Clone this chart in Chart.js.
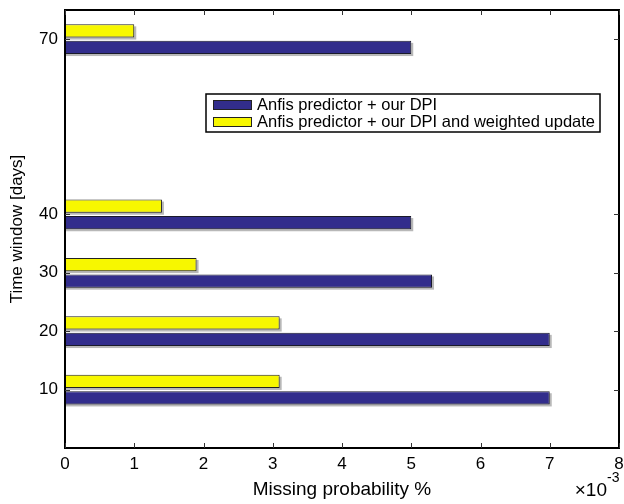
<!DOCTYPE html>
<html>
<head>
<meta charset="utf-8">
<script src="https://cdn.jsdelivr.net/npm/chart.js@4"></script>
<style>
  body { margin: 0; background: #fff; }
</style>
</head>
<body>
<canvas id="chart" width="624" height="504"></canvas>
<script>
// time windows (days) on the y axis
const windows = [10, 20, 30, 40, 70]
// missing probability, in units of 1e-3
const dpiOnly = [7, 7, 5.3, 5, 5]
const dpiWeighted = [3.1, 3.1, 1.9, 1.4, 1]
const yTickValues = [10, 20, 30, 40, 70]
const labelDpi = 'Anfis predictor + our DPI'
const labelWeighted = 'Anfis predictor + our DPI and weighted update'

const BLUE = '#322d8c'
const YELLOW = '#f7f700'
const FONT = '"Liberation Sans", Arial, Helvetica, sans-serif'

Chart.defaults.font.family = FONT
Chart.defaults.color = '#000'

const toPoints = (vals) => vals.map((v, i) => ({ x: v, y: windows[i] }))

// matlab-ish box, inward ticks, legend inside the axes, x10^-3 note
const matlabFrame = {
  id: 'matlabFrame',
  beforeDatasetsDraw(chart) {
    const ctx = chart.ctx
    ctx.save()
    ctx.fillStyle = 'rgba(0,0,0,0.28)'
    chart.data.datasets.forEach((ds, di) => {
      chart.getDatasetMeta(di).data.forEach(bar => {
        const { x, y, base, height } = bar.getProps(['x', 'y', 'base', 'height'], true)
        ctx.fillRect(base + 1, y - height / 2 + 2, x - base + 1, height)
      })
    })
    ctx.restore()
  },
  afterDraw(chart) {
    const ctx = chart.ctx
    const { left, right, top, bottom } = chart.chartArea
    const xs = chart.scales.x
    const ys = chart.scales.y
    ctx.save()
    ctx.strokeStyle = '#000'
    ctx.lineWidth = 2
    ctx.strokeRect(left, top, right - left, bottom - top)

    ctx.lineWidth = 1
    ctx.strokeStyle = '#333'
    ctx.beginPath()
    xs.ticks.forEach(t => {
      const px = Math.round(xs.getPixelForValue(t.value)) + 0.5
      ctx.moveTo(px, bottom); ctx.lineTo(px, bottom - 5)
      ctx.moveTo(px, top); ctx.lineTo(px, top + 5)
    })
    ys.ticks.forEach(t => {
      const py = Math.round(ys.getPixelForValue(t.value)) + 0.5
      ctx.moveTo(left, py); ctx.lineTo(left + 5, py)
      ctx.moveTo(right, py); ctx.lineTo(right - 5, py)
    })
    ctx.stroke()

    // exponent note
    ctx.fillStyle = '#000'
    ctx.textBaseline = 'middle'
    ctx.textAlign = 'right'
    ctx.font = '19px ' + FONT
    ctx.fillText('\u00d710', right - 12, bottom + 43)
    ctx.textAlign = 'left'
    ctx.font = '14px ' + FONT
    ctx.fillText('-3', right - 12, bottom + 30)

    // legend (blue first, like the original)
    const items = chart.data.datasets.slice().reverse()
    ctx.font = '16.5px ' + FONT
    const textW = Math.max(...items.map(d => ctx.measureText(d.label).width))
    const bx = left + 141
    const by = top + 84
    const bw = 7 + 39 + 5 + textW + 5
    const bh = 38
    ctx.fillStyle = '#fff'
    ctx.fillRect(bx, by, bw, bh)
    ctx.lineWidth = 1.5
    ctx.strokeStyle = '#000'
    ctx.strokeRect(bx, by, bw, bh)
    items.forEach((d, i) => {
      const cy = by + 11 + i * 17
      ctx.fillStyle = d.backgroundColor
      ctx.fillRect(bx + 7, cy - 5, 39, 10)
      ctx.lineWidth = 1
      ctx.strokeStyle = '#222'
      ctx.strokeRect(bx + 7.5, cy - 4.5, 38, 9)
      ctx.fillStyle = '#000'
      ctx.textAlign = 'left'
      ctx.textBaseline = 'middle'
      ctx.fillText(d.label, bx + 51, cy)
    })
    ctx.restore()
  }
}

const config = {
  type: 'bar',
  data: {
    datasets: [
      {
        label: labelWeighted,
        data: toPoints(dpiWeighted),
        backgroundColor: YELLOW,
        borderColor: '#222',
        borderWidth: 1,
        borderSkipped: false
      },
      {
        label: labelDpi,
        data: toPoints(dpiOnly),
        backgroundColor: BLUE,
        borderColor: '#1a1a2a',
        borderWidth: 1,
        borderSkipped: false
      }
    ]
  },
  options: {
    indexAxis: 'y',
    responsive: false,
    animation: false,
    categoryPercentage: 0.565,
    barPercentage: 0.8,
    layout: { padding: { top: 10, right: 5, left: 0, bottom: 0 } },
    plugins: {
      legend: { display: false },
      tooltip: { enabled: false }
    },
    scales: {
      x: {
        type: 'linear',
        min: 0,
        max: 8,
        offset: false,
        ticks: { stepSize: 1, padding: 6, font: { size: 17 } },
        grid: { display: false, drawTicks: false },
        border: { display: false },
        title: {
          display: true,
          text: 'Missing probability %',
          font: { size: 19 },
          padding: { top: 0, bottom: 3 }
        },
        afterFit: (scale) => {
          scale.height = 56
          scale.paddingLeft = 0
          scale.paddingRight = 0
        }
      },
      y: {
        type: 'linear',
        min: 0,
        max: 75,
        offset: false,
        ticks: { padding: 7, font: { size: 17 } },
        afterBuildTicks: (scale) => {
          scale.ticks = yTickValues.map(v => ({ value: v }))
        },
        grid: { display: false, drawTicks: false },
        border: { display: false },
        title: {
          display: true,
          text: 'Time window [days]',
          font: { size: 17 },
          padding: { top: 7, bottom: 0 }
        },
        afterFit: (scale) => {
          scale.width = 65
          scale.paddingTop = 0
          scale.paddingBottom = 0
        }
      }
    }
  },
  plugins: [matlabFrame]
}

new Chart(document.getElementById('chart'), config)
</script>
</body>
</html>
